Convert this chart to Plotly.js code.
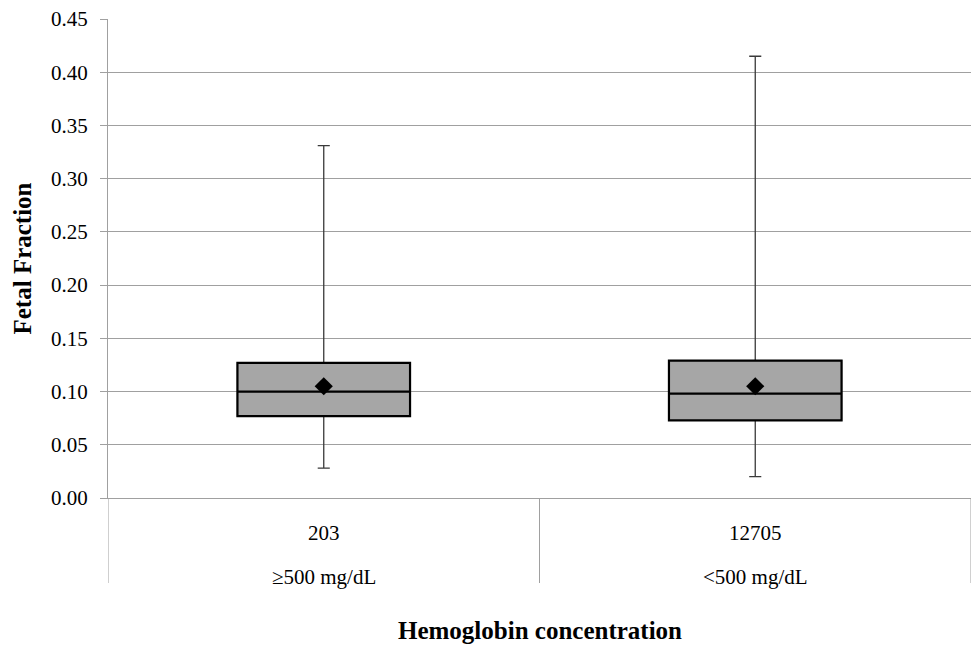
<!DOCTYPE html>
<html>
<head>
<meta charset="utf-8">
<script src="https://cdn.plot.ly/plotly-3.0.1.min.js"></script>
<style>html,body{margin:0;padding:0;background:#fff}#chart{width:972px;height:645px}</style>
</head>
<body>
<div id="chart"></div>
<script>
// Data
const categories = ["≥500 mg/dL", "<500 mg/dL"];
const counts = ["203", "12705"];
const q1Vals = [0.077, 0.073];
const medianVals = [0.100, 0.098];
const q3Vals = [0.127, 0.129];
const lowerVals = [0.028, 0.020];
const upperVals = [0.331, 0.415];
const meanVals = [0.105, 0.105];
const yTickVals = [0, 0.05, 0.10, 0.15, 0.20, 0.25, 0.30, 0.35, 0.40, 0.45];

const serif = "Liberation Serif, Times New Roman, serif";
const xPos = categories.map((c, i) => i);

const whiskers = {
  type: 'box', x: xPos, q1: q1Vals, median: medianVals, q3: q3Vals,
  lowerfence: lowerVals, upperfence: upperVals,
  width: 0.4, whiskerwidth: 0.07,
  line: {color: '#3a3a3a', width: 1.3}, fillcolor: '#a6a6a6',
  hoverinfo: 'skip', showlegend: false
};
const boxes = {
  type: 'box', x: xPos, q1: q1Vals, median: medianVals, q3: q3Vals,
  lowerfence: q1Vals, upperfence: q3Vals,
  width: 0.4, whiskerwidth: 0,
  line: {color: '#000', width: 2.2}, fillcolor: '#a6a6a6',
  hoverinfo: 'skip', showlegend: false
};
const means = {
  type: 'scatter', mode: 'markers', x: xPos, y: meanVals,
  marker: {symbol: 'diamond', size: 14, color: '#000'},
  hoverinfo: 'skip', showlegend: false
};

const plotH = 645 - 19 - 147;
const plotW = 972 - 108 - 1;
const shapes = [-0.5, 0.5, 1.5].map(x => ({
  type: 'line', xref: 'x', yref: 'paper', x0: x, x1: x, y0: 0, y1: -(583 - 498) / plotH,
  line: {color: '#a0a0a0', width: 1}
}));

const annotations = [];
categories.forEach((c, i) => {
  annotations.push({xref: 'x', yref: 'paper', x: i, y: -(533 - 498) / plotH, text: counts[i],
    showarrow: false, yanchor: 'middle', font: {family: serif, size: 21, color: '#000'}});
  annotations.push({xref: 'x', yref: 'paper', x: i, y: -(577 - 498) / plotH, text: c,
    showarrow: false, yanchor: 'middle', font: {family: serif, size: 21, color: '#000'}});
});
annotations.push({xref: 'paper', yref: 'paper', x: 0.5, y: -(630 - 498) / plotH,
  text: '<b>Hemoglobin concentration</b>', showarrow: false, yanchor: 'middle',
  font: {family: serif, size: 25, color: '#000'}});
annotations.push({xref: 'paper', yref: 'paper', x: -(108 - 22) / plotW, y: 0.5,
  text: '<b>Fetal Fraction</b>', showarrow: false, textangle: -90, xanchor: 'center', yanchor: 'middle',
  font: {family: serif, size: 25, color: '#000'}});

const layout = {
  width: 972, height: 645,
  margin: {l: 108, r: 1, t: 19, b: 147},
  paper_bgcolor: '#fff', plot_bgcolor: '#fff',
  showlegend: false,
  boxmode: 'overlay',
  xaxis: {
    range: [-0.5, 1.5], showticklabels: false, showgrid: false, zeroline: false,
    showline: true, linecolor: '#a0a0a0', linewidth: 1, ticks: '', fixedrange: true
  },
  yaxis: {
    range: [0, 0.45], tickvals: yTickVals, tickformat: '.2f',
    showgrid: true, gridcolor: '#a0a0a0', gridwidth: 1,
    zeroline: false, showline: true, linecolor: '#a0a0a0', linewidth: 1,
    ticks: 'outside', ticklen: 7, tickcolor: '#a0a0a0', ticklabelstandoff: 8,
    tickfont: {family: serif, size: 21, color: '#000'}
  },
  shapes: shapes,
  annotations: annotations
};

Plotly.newPlot('chart', [whiskers, boxes, means], layout, {displayModeBar: false, staticPlot: true});
</script>
</body>
</html>
